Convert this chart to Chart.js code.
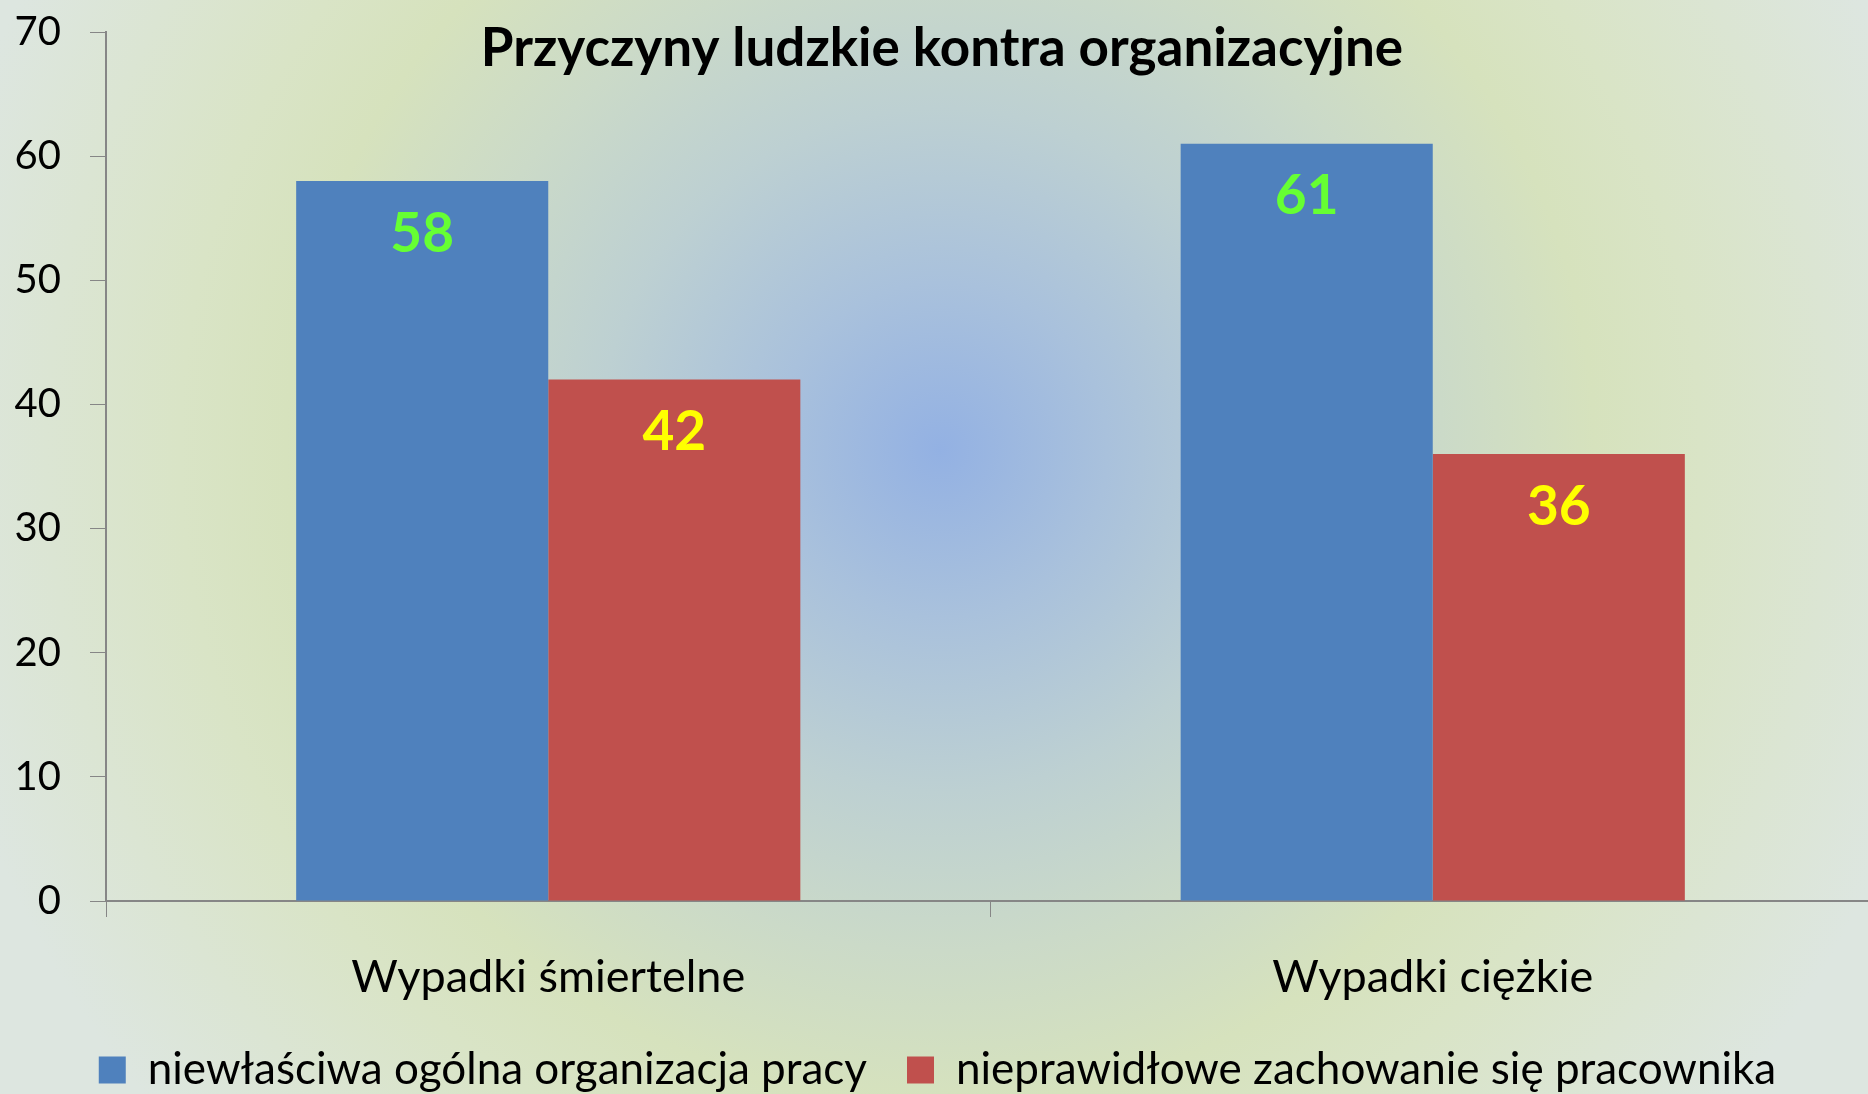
<!DOCTYPE html>
<html>
<head>
<meta charset="utf-8">
<script src="https://cdn.jsdelivr.net/npm/chart.js@4/dist/chart.umd.min.js"></script>
<style>
  html, body { margin: 0; padding: 0; overflow: hidden; }
  body {
    width: 1868px; height: 1094px;
    background: radial-gradient(760px 760px at 940px 450px,
      #93b1e3 0%, #a9c1dc 22%, #bdd0d2 45%, #cbdac8 66%, #d6e2bd 86%, #d9e4c6 100%, #dde6e0 135%);
  }
  #wrap { position: absolute; left: 0; top: 0; width: 1884px; height: 1102px; }
</style>
</head>
<body>
<div id="wrap"><canvas id="myChart"></canvas></div>
<script>
const chartTitle = 'Przyczyny ludzkie kontra organizacyjne';
const categories = ['Wypadki śmiertelne', 'Wypadki ciężkie'];
const seriesNames = ['niewłaściwa ogólna organizacja pracy', 'nieprawidłowe zachowanie się pracownika'];
const organizacja = [58, 61];
const zachowanie = [42, 36];
const yTicks = [0, 10, 20, 30, 40, 50, 60, 70];

// title sits over the plot area, so draw it by hand
const titlePlugin = {
  id: 'overTitle',
  afterDraw(chart) {
    const ctx = chart.ctx;
    ctx.save();
    ctx.font = 'bold 53px Lato';
    ctx.fillStyle = '#000';
    ctx.textAlign = 'center';
    ctx.textBaseline = 'alphabetic';
    ctx.fillText(chartTitle, chart.width / 2, 66);
    ctx.restore();
  }
};

// value labels inside the bars, near the top
const valuePlugin = {
  id: 'barValues',
  afterDatasetsDraw(chart) {
    const ctx = chart.ctx;
    const colors = ['#66ff33', '#ffff00'];
    ctx.save();
    ctx.font = 'bold 55px Lato';
    ctx.textAlign = 'center';
    ctx.textBaseline = 'middle';
    chart.data.datasets.forEach(function (ds, i) {
      chart.getDatasetMeta(i).data.forEach(function (bar, j) {
        ctx.fillStyle = colors[i];
        ctx.fillText(ds.data[j], bar.x, bar.y + 53);
      });
    });
    ctx.restore();
  }
};

const ctx = document.getElementById('myChart').getContext('2d');
const myChart = new Chart(ctx, {
  type: 'bar',
  data: {
    labels: categories,
    datasets: [{
      label: seriesNames[0],
      data: organizacja,
      backgroundColor: '#4f81bd',
      borderWidth: 0,
      categoryPercentage: 0.57,
      barPercentage: 1.0
    }, {
      label: seriesNames[1],
      data: zachowanie,
      backgroundColor: '#c0504d',
      borderWidth: 0,
      categoryPercentage: 0.57,
      barPercentage: 1.0
    }]
  },
  plugins: [titlePlugin, valuePlugin],
  options: {
    responsive: true,
    maintainAspectRatio: false,
    animation: false,
    layout: { padding: { top: 32, right: 9, left: 0, bottom: 0 } },
    plugins: {
      tooltip: { enabled: false },
      legend: {
        position: 'bottom',
        labels: {
          font: { family: 'Lato', size: 44 },
          color: '#000',
          boxWidth: 27,
          boxHeight: 27,
          padding: 40
        }
      }
    },
    scales: {
      x: {
        grid: { offset: true, drawOnChartArea: false, tickLength: 16, color: '#868686' },
        border: { color: '#868686', width: 2 },
        ticks: { font: { family: 'Lato', size: 45 }, color: '#000', padding: 33 },
        afterFit: function (scale) { scale.height = 107; }
      },
      y: {
        min: 0,
        max: 70,
        afterBuildTicks: function (scale) { scale.ticks = yTicks.map(function (v) { return { value: v }; }); },
        grid: { drawOnChartArea: false, tickLength: 16, color: '#868686' },
        border: { color: '#868686', width: 2 },
        ticks: { font: { family: 'Lato', size: 40 }, color: '#000', padding: 29 },
        afterFit: function (scale) {
          scale.width = 106;
          // top label may hang above the plot, like in the original
          scale.paddingTop = 0;
        }
      }
    }
  }
});
</script>
</body>
</html>
